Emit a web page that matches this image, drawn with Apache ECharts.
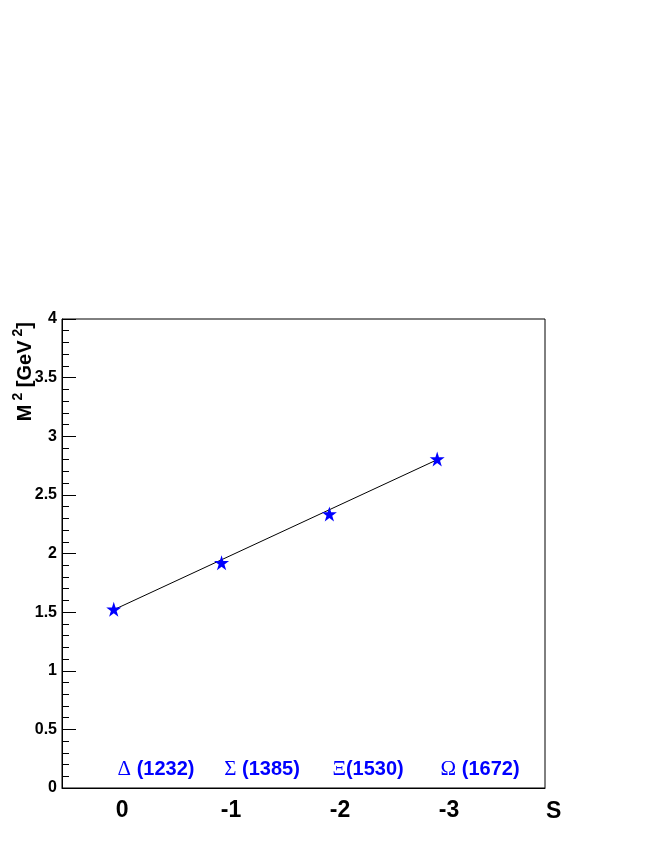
<!DOCTYPE html>
<html>
<head>
<meta charset="utf-8">
<script src="https://cdn.jsdelivr.net/npm/echarts@6/dist/echarts.min.js"></script>
<style>
  html, body { margin: 0; padding: 0; background: #fff; }
  #chart { width: 654px; height: 846px; }
</style>
</head>
<body>
<div id="chart"></div>
<script>
// strangeness slots (plotted at x = 1..4) and squared masses in GeV^2
const slotX = [1, 2, 3, 4];
const massSq = [1.524, 1.921, 2.337, 2.806];

// straight line drawn through the points (end points)
const fitX = [1, 4];
const fitY = [1.52, 2.80];

// text labels under the x axis
const sLabels = ['0', '-1', '-2', '-3'];
const sLabelX = [1.077, 2.088, 3.099, 4.11];

// particle names written inside the frame
const particleGreek = ['\u0394', '\u03A3', '\u039E', '\u03A9'];
const particleMass = ['(1232)', '(1385)', '(1530)', '(1672)'];
const particleSep = [' ', ' ', '', ' '];
const particleX = [1.392, 2.375, 3.359, 4.398];
const particleY = [0.16, 0.16, 0.16, 0.16];

const starPath = 'path://M50 0 L61.23 34.55 L97.55 34.55 L68.17 55.9 L79.39 90.45 L50 69.1 L20.61 90.45 L31.83 55.9 L2.45 34.55 L38.77 34.55 Z';
const sans = 'Liberation Sans, Arial, Helvetica, sans-serif';

const chart = echarts.init(document.getElementById('chart'));

const option = {
  animation: false,
  backgroundColor: '#fff',
  grid: {
    left: 62,
    right: 109,
    top: 319,
    bottom: 58,
    show: true,
    borderColor: '#000',
    borderWidth: 1,
    backgroundColor: 'transparent',
  },
  xAxis: {
    type: 'value',
    min: 0.52,
    max: 5.0,
    name: 'S',
    nameLocation: 'end',
    nameGap: 1,
    nameTextStyle: {
      color: '#000',
      fontFamily: sans,
      fontWeight: 'bold',
      fontSize: 23,
      align: 'left',
      verticalAlign: 'top',
      padding: [12, 0, 0, 0],
    },
    axisLine: { show: true, lineStyle: { color: '#000', width: 1 } },
    axisTick: { show: false },
    splitLine: { show: false },
    axisLabel: {
      customValues: sLabelX,
      margin: 11,
      color: '#000',
      fontFamily: sans,
      fontWeight: 'bold',
      fontSize: 23,
      formatter: (v) => {
        let best = 0;
        sLabelX.forEach((x, i) => {
          if (Math.abs(x - v) < Math.abs(sLabelX[best] - v)) best = i;
        });
        return sLabels[best];
      },
    },
  },
  yAxis: {
    type: 'value',
    min: 0,
    max: 4,
    interval: 0.5,
    axisLine: { show: true, lineStyle: { color: '#000', width: 1 } },
    axisTick: {
      show: true,
      inside: true,
      length: 14,
      lineStyle: { color: '#000', width: 1 },
    },
    minorTick: {
      show: true,
      splitNumber: 5,
      length: 7,
      lineStyle: { color: '#000', width: 1 },
    },
    splitLine: { show: false },
    axisLabel: {
      margin: 5,
      color: '#000',
      fontFamily: sans,
      fontWeight: 'bold',
      fontSize: 16,
      formatter: (v) => String(v),
    },
  },
  graphic: [
    {
      type: 'text',
      x: 23,
      y: 322,
      rotation: Math.PI / 2,
      style: {
        text: '{b|M}{s|2}{b| [GeV}{s|2}{b|]}',
        align: 'right',
        verticalAlign: 'middle',
        fill: '#000',
        rich: {
          b: { fontFamily: sans, fontWeight: 'bold', fontSize: 20, fill: '#000', lineHeight: 24, verticalAlign: 'bottom' },
          s: { fontFamily: sans, fontWeight: 'bold', fontSize: 14, fill: '#000', lineHeight: 24, padding: [0, 0, 10, 4], verticalAlign: 'bottom' },
        },
      },
    },
  ],
  series: [
    {
      name: 'fit',
      type: 'line',
      data: fitX.map((x, i) => [x, fitY[i]]),
      showSymbol: false,
      symbol: 'none',
      lineStyle: { color: '#000', width: 1 },
      z: 2,
    },
    {
      name: 'M2',
      type: 'scatter',
      data: slotX.map((x, i) => [x, massSq[i]]),
      symbol: starPath,
      symbolSize: 15,
      itemStyle: { color: '#0000ff', opacity: 1 },
      z: 3,
    },
    {
      name: 'particles',
      type: 'scatter',
      symbolSize: 0,
      itemStyle: { opacity: 1 },
      data: particleX.map((x, i) => ({
        value: [x, particleY[i]],
        label: {
          formatter: '{g|' + particleGreek[i] + '}' + (particleSep[i] ? '{n| }' : '') + '{n|' + particleMass[i] + '}',
        },
      })),
      label: {
        show: true,
        position: 'inside',
        rich: {
          g: { fontFamily: 'Liberation Serif, DejaVu Serif, serif', fontSize: 21, color: '#0000ff' },
          n: { fontFamily: sans, fontWeight: 'bold', fontSize: 20, color: '#0000ff' },
        },
      },
      silent: true,
      z: 4,
    },
  ],
};

chart.setOption(option);
</script>
</body>
</html>
